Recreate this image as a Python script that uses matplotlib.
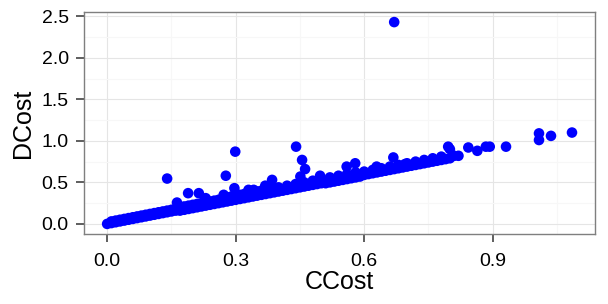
import matplotlib
matplotlib.use("Agg")
import matplotlib.pyplot as plt
from matplotlib.ticker import MultipleLocator

plt.rcParams['font.family'] = ['Liberation Sans', 'DejaVu Sans']

# dense lower row of the band
band_low_c = [0.00, 0.01, 0.02, 0.03, 0.04, 0.05, 0.06, 0.07, 0.08, 0.09,
              0.10, 0.11, 0.12, 0.13, 0.14, 0.15, 0.16, 0.17, 0.18, 0.19,
              0.20, 0.21, 0.22, 0.23, 0.24, 0.25, 0.26, 0.27, 0.28, 0.29,
              0.30, 0.31, 0.32, 0.33, 0.34, 0.35, 0.36, 0.37, 0.38, 0.39,
              0.40, 0.41, 0.42, 0.43, 0.44, 0.45, 0.46, 0.47, 0.48, 0.49,
              0.50, 0.51, 0.52, 0.53, 0.54, 0.55, 0.56, 0.57, 0.58, 0.59,
              0.60, 0.61, 0.62, 0.63, 0.64, 0.65, 0.66, 0.67, 0.68, 0.69,
              0.70, 0.71, 0.72, 0.73, 0.74, 0.75, 0.76, 0.77, 0.78, 0.79, 0.80]
band_low_d = [0.00, 0.01, 0.02, 0.03, 0.04, 0.05, 0.06, 0.07, 0.08, 0.09,
              0.10, 0.11, 0.12, 0.13, 0.14, 0.15, 0.16, 0.16, 0.17, 0.18,
              0.19, 0.20, 0.21, 0.22, 0.23, 0.24, 0.25, 0.26, 0.27, 0.28,
              0.29, 0.30, 0.31, 0.32, 0.33, 0.34, 0.35, 0.36, 0.37, 0.38,
              0.39, 0.40, 0.41, 0.42, 0.43, 0.44, 0.45, 0.46, 0.47, 0.48,
              0.49, 0.49, 0.50, 0.51, 0.52, 0.53, 0.54, 0.55, 0.56, 0.57,
              0.59, 0.60, 0.61, 0.62, 0.63, 0.64, 0.65, 0.66, 0.67, 0.68,
              0.69, 0.70, 0.71, 0.72, 0.73, 0.74, 0.75, 0.76, 0.77, 0.78, 0.79]

# upper row of the band
band_up_c = [0.01, 0.02, 0.03, 0.04, 0.05, 0.06, 0.07, 0.08, 0.09, 0.10,
             0.11, 0.12, 0.13, 0.14, 0.15, 0.16, 0.17, 0.18, 0.19, 0.20,
             0.21, 0.22, 0.23, 0.24, 0.25, 0.26, 0.27, 0.28, 0.29, 0.30,
             0.31, 0.32, 0.33, 0.34, 0.35, 0.36, 0.37, 0.38, 0.39, 0.40,
             0.42, 0.44, 0.46, 0.48, 0.50, 0.52, 0.54, 0.56, 0.58, 0.60,
             0.62, 0.64, 0.66, 0.68, 0.70, 0.72, 0.74, 0.76, 0.78]
band_up_d = [0.03, 0.04, 0.05, 0.06, 0.07, 0.08, 0.09, 0.10, 0.11, 0.12,
             0.13, 0.14, 0.15, 0.16, 0.17, 0.18, 0.20, 0.21, 0.22, 0.23,
             0.24, 0.25, 0.26, 0.27, 0.28, 0.29, 0.31, 0.32, 0.33, 0.34,
             0.35, 0.36, 0.37, 0.38, 0.39, 0.40, 0.41, 0.42, 0.43, 0.44,
             0.46, 0.48, 0.50, 0.52, 0.54, 0.56, 0.58, 0.60, 0.62, 0.63,
             0.65, 0.67, 0.69, 0.71, 0.73, 0.75, 0.77, 0.79, 0.81]

# points standing out above the band and the sparse tail
extra_c = [0.163, 0.189, 0.214, 0.23, 0.272, 0.297, 0.33, 0.342, 0.369, 0.385,
           0.451, 0.497, 0.559, 0.579, 0.629, 0.668, 0.695,
           0.140, 0.277, 0.299, 0.441, 0.455, 0.462, 0.670,
           0.796, 0.80, 0.81, 0.82, 0.843, 0.864, 0.884, 0.893, 0.931,
           1.008, 1.008, 1.036, 1.085]
extra_d = [0.257, 0.37, 0.37, 0.31, 0.35, 0.43, 0.41, 0.41, 0.46, 0.53,
           0.57, 0.58, 0.69, 0.73, 0.69, 0.80, 0.72,
           0.546, 0.58, 0.87, 0.93, 0.77, 0.66, 2.43,
           0.93, 0.90, 0.82, 0.82, 0.92, 0.88, 0.93, 0.93, 0.93,
           1.09, 1.01, 1.06, 1.10]

ccost = band_low_c + band_up_c + extra_c
dcost = band_low_d + band_up_d + extra_d

fig, ax = plt.subplots(figsize=(6.08, 3.04), dpi=100)
fig.subplots_adjust(left=0.138, right=0.979, top=0.9605, bottom=0.2303)

ax.scatter(ccost, dcost, s=58, color="#0000FF", edgecolors="none", zorder=3)

xmax, ymax = max(ccost), max(dcost)
ax.set_xlim(-0.05 * xmax, 1.05 * xmax)
ax.set_ylim(-0.05 * ymax, 1.05 * ymax)

ax.xaxis.set_major_locator(MultipleLocator(0.3))
ax.xaxis.set_minor_locator(MultipleLocator(0.15))
ax.yaxis.set_major_locator(MultipleLocator(0.5))
ax.yaxis.set_minor_locator(MultipleLocator(0.25))
ax.xaxis.set_major_formatter(plt.FormatStrFormatter("%.1f"))
ax.yaxis.set_major_formatter(plt.FormatStrFormatter("%.1f"))

ax.grid(which="major", color="#E5E5E5", lw=0.8)
ax.grid(which="minor", color="#F7F7F7", lw=0.8)
ax.set_axisbelow(True)
for sp in ax.spines.values():
    sp.set_color("#7F7F7F")
    sp.set_linewidth(1.0)

ax.tick_params(which="major", length=6, width=1.1, color="#333333",
               labelsize=14, labelcolor="black", pad=5)
ax.tick_params(axis="x", which="major", pad=8)
ax.tick_params(which="minor", length=0)

ax.set_xlabel("CCost", fontsize=18, labelpad=0)
ax.set_ylabel("DCost", fontsize=18, labelpad=5)

fig.savefig("out.png", dpi=100)
